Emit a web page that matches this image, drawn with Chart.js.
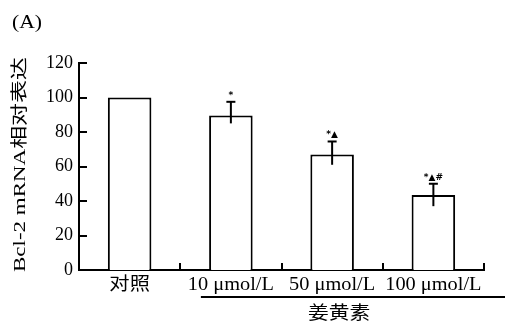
<!DOCTYPE html>
<html><head><meta charset="utf-8">
<script src="https://cdn.jsdelivr.net/npm/chart.js@4/dist/chart.umd.min.js"></script>
<style>html,body{margin:0;padding:0;background:#fff}#wrap{width:507px;height:335px;position:relative}</style>
</head><body><div id="wrap"><canvas id="c"></canvas></div>
<script>
const categories = ['对照', '10 μmol/L', '50 μmol/L', '100 μmol/L'];
const values = [100, 89.5, 67, 43.5];
const errPlus = [0, 8, 7.5, 6.5];
const errMinus = [0, 4.5, 6, 6.5];
const marks = ['', '*', '*▲', '*▲#'];
const yTicks = [0, 20, 40, 60, 80, 100, 120];
const groupLabel = '姜黄素';
const panelLabel = '(A)';
const yTitle = 'Bcl-2 mRNA相对表达';

const FONT = '"Liberation Serif", "Noto Sans CJK SC", serif';

const deco = {
  id: 'deco',
  afterDraw(chart) {
    const ctx = chart.ctx, x = chart.scales.x, y = chart.scales.y, ca = chart.chartArea;
    ctx.save();
    ctx.strokeStyle = '#000'; ctx.fillStyle = '#000'; ctx.lineWidth = 2;
    // y ticks (inward)
    yTicks.forEach(v => {
      const py = Math.round(y.getPixelForValue(v));
      ctx.beginPath(); ctx.moveTo(ca.left, py); ctx.lineTo(ca.left + 8, py); ctx.stroke();
    });
    // x ticks at category boundaries
    for (let i = 1; i <= categories.length; i++) {
      const px = Math.round(x.getPixelForValue(i - 0.5));
      ctx.beginPath(); ctx.moveTo(px, ca.bottom); ctx.lineTo(px, ca.bottom - 7); ctx.stroke();
    }
    // x category labels (slightly stretched)
    ctx.font = '18px ' + FONT;
    ctx.textAlign = 'center'; ctx.textBaseline = 'middle';
    categories.forEach((c, i) => {
      ctx.save();
      ctx.translate(x.getPixelForValue(i), ca.bottom + 15);
      ctx.scale(1.13, 1);
      ctx.fillText(c, 0, 0);
      ctx.restore();
    });
    // error bars + marks
    values.forEach((v, i) => {
      if (!errPlus[i] && !errMinus[i]) return;
      const px = x.getPixelForValue(i);
      const top = y.getPixelForValue(v + errPlus[i]);
      const bot = y.getPixelForValue(v - errMinus[i]);
      ctx.beginPath(); ctx.moveTo(px, top); ctx.lineTo(px, bot); ctx.stroke();
      ctx.beginPath(); ctx.moveTo(px - 4.5, top); ctx.lineTo(px + 4.5, top); ctx.stroke();
      if (marks[i]) {
        ctx.font = 'bold 9px "DejaVu Sans", sans-serif';
        ctx.textAlign = 'center'; ctx.textBaseline = 'bottom';
        ctx.fillText(marks[i], px, top - 2);
      }
    });
    // group bracket line
    const lx0 = x.getPixelForValue(1) - 30;
    const lx1 = chart.width - 2;
    ctx.lineWidth = 2;
    ctx.beginPath(); ctx.moveTo(lx0, ca.bottom + 27); ctx.lineTo(lx1, ca.bottom + 27); ctx.stroke();
    ctx.font = '18px ' + FONT;
    ctx.textAlign = 'center'; ctx.textBaseline = 'middle';
    ctx.save();
    ctx.translate(x.getPixelForValue(2) + 7, ca.bottom + 44);
    ctx.scale(1.15, 1);
    ctx.fillText(groupLabel, 0, 0);
    ctx.restore();
    // panel label
    ctx.font = '18px ' + FONT;
    ctx.textAlign = 'left';
    ctx.save();
    ctx.translate(12, 23);
    ctx.scale(1.2, 1);
    ctx.fillText(panelLabel, 0, 0);
    ctx.restore();
    // y title (stretched)
    ctx.font = '17px ' + FONT;
    const w = ctx.measureText(yTitle).width;
    const target = 215;
    ctx.translate(21, (ca.top + ca.bottom) / 2 - 2);
    ctx.rotate(-Math.PI / 2);
    ctx.scale(target / w, 1);
    ctx.textAlign = 'center'; ctx.textBaseline = 'middle';
    ctx.fillText(yTitle, 0, 0);
    ctx.restore();
  }
};

new Chart(document.getElementById('c'), {
  type: 'bar',
  data: {
    labels: categories,
    datasets: [{
      data: values,
      backgroundColor: '#fff',
      borderColor: '#000',
      borderWidth: 2,
      categoryPercentage: 1,
      barPercentage: 0.43
    }]
  },
  options: {
    responsive: true,
    maintainAspectRatio: false,
    animation: false,
    devicePixelRatio: 1,
    layout: { padding: { left: 0, right: 23, top: 63, bottom: 0 } },
    plugins: { legend: { display: false }, tooltip: { enabled: false } },
    scales: {
      x: {
        grid: { display: false, drawTicks: false },
        border: { display: true, color: '#000', width: 2 },
        ticks: { display: false },
        afterFit(s) { s.height = 65; }
      },
      y: {
        min: 0, max: 120,
        grid: { display: false, drawTicks: false },
        border: { display: true, color: '#000', width: 2 },
        ticks: { stepSize: 20, color: '#000', font: { family: FONT, size: 18 }, padding: 6 },
        afterFit(s) { s.width = 79; }
      }
    }
  },
  plugins: [deco]
});
</script></body></html>
